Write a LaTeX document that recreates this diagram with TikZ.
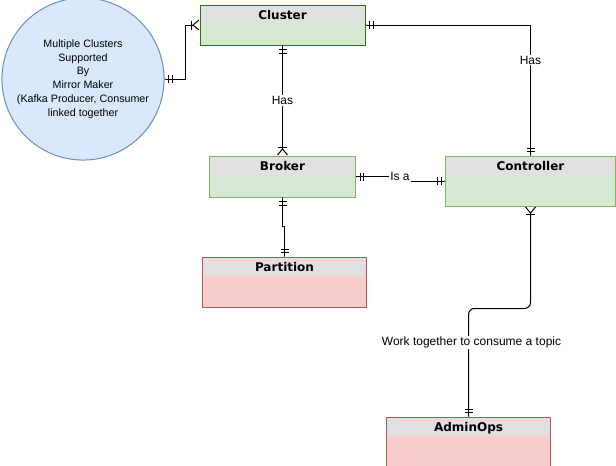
\documentclass[tikz,border=0pt]{standalone}
\usepackage{fontspec}
\setmainfont{Liberation Sans}
\newfontfamily\hdrfont{DejaVu Sans}
\usetikzlibrary{arrows.meta, positioning}

\definecolor{hdrgray}{HTML}{E0E0E0}
\definecolor{grnbody}{HTML}{D5E8D4}
\definecolor{grnline}{HTML}{82B366}
\definecolor{clstline}{HTML}{2D7600}
\definecolor{redbody}{HTML}{F8CECC}
\definecolor{redline}{HTML}{B85450}
\definecolor{blubody}{HTML}{DAE8FC}
\definecolor{bluline}{HTML}{6C8EBF}

\tikzset{
  erone/.tip={Bar[width=8pt,sep=2.5pt]Bar[width=8pt,sep=3pt]Butt Cap[]},
  ermany/.tip={Bar[width=9pt,sep=0.5pt]Straight Barb[reversed,length=6pt,width=10pt]}
}

\begin{document}
\begin{tikzpicture}[x=1pt, y=-1pt, line width=1pt]
    % Estilos
    \tikzstyle{entity} = [draw=grnline, fill=grnbody, rectangle, inner sep=0pt,
      path picture={\fill[hdrgray] ([yshift=-0.5pt]path picture bounding box.north west) rectangle ([yshift=-19pt]path picture bounding box.north east);}]
    \tikzstyle{redent} = [entity, draw=redline, fill=redbody]
    \tikzstyle{hdr} = [anchor=north, yshift=-5pt, inner sep=0pt, font=\hdrfont\bfseries\fontsize{12}{14}\selectfont]
    \tikzstyle{lbl} = [fill=white, inner sep=1pt, font=\fontsize{12}{13}\selectfont]

    \useasboundingbox (0,0) rectangle (616,466);

    % Entidades
    \node[entity, draw=clstline, minimum width=165pt, minimum height=40pt, label={[hdr]north:Cluster}] (cluster) at (282.5,25) {};
    \node[entity, minimum width=146pt, minimum height=41pt, below=110pt of cluster, label={[hdr]north:Broker}] (broker) {};
    \node[entity, minimum width=170pt, minimum height=50pt, right=89pt of broker.north east, anchor=north west, label={[hdr]north:Controller}] (controller) {};
    \node[redent, minimum width=164pt, minimum height=50pt, below=59pt of broker, xshift=2pt, label={[hdr]north:Partition}] (partition) {};
    \node[redent, minimum width=164pt, minimum height=50pt, below=210pt of controller, xshift=-62pt, label={[hdr]north:AdminOps}] (adminops) {};
    \node[circle, draw=bluline, fill=blubody, minimum size=158pt, align=center, font=\fontsize{10.7}{13.7}\selectfont] (mirror) at (83,79)
      {Multiple Clusters\\Supported\\By\\Mirror Maker\\(Kafka Producer, Consumer\\linked together};

    % Relaciones
    \draw[{erone}-{ermany}] (mirror.east) -- ++(21,0) |- (cluster.west);
    \draw[{erone}-{erone}] (cluster.east) -| node[lbl, pos=0.635] {Has} (controller.north);
    \draw[{erone}-{ermany}] (cluster.south) -- node[lbl] {Has} (broker.north);
    \draw[{erone}-{erone}] (broker.east) -- ++(44,0) node[lbl] {Is a} |- (controller.west);
    \draw[{erone}-{erone}] (broker.south) -- ++(0,29) -| (partition.north);
    \draw[rounded corners=6pt, {erone}-{ermany}] (adminops.north) -- node[lbl, pos=0.685, xshift=3pt] {Work together to consume a topic} ++(0,-108) -| (controller.south);
\end{tikzpicture}
\end{document}
